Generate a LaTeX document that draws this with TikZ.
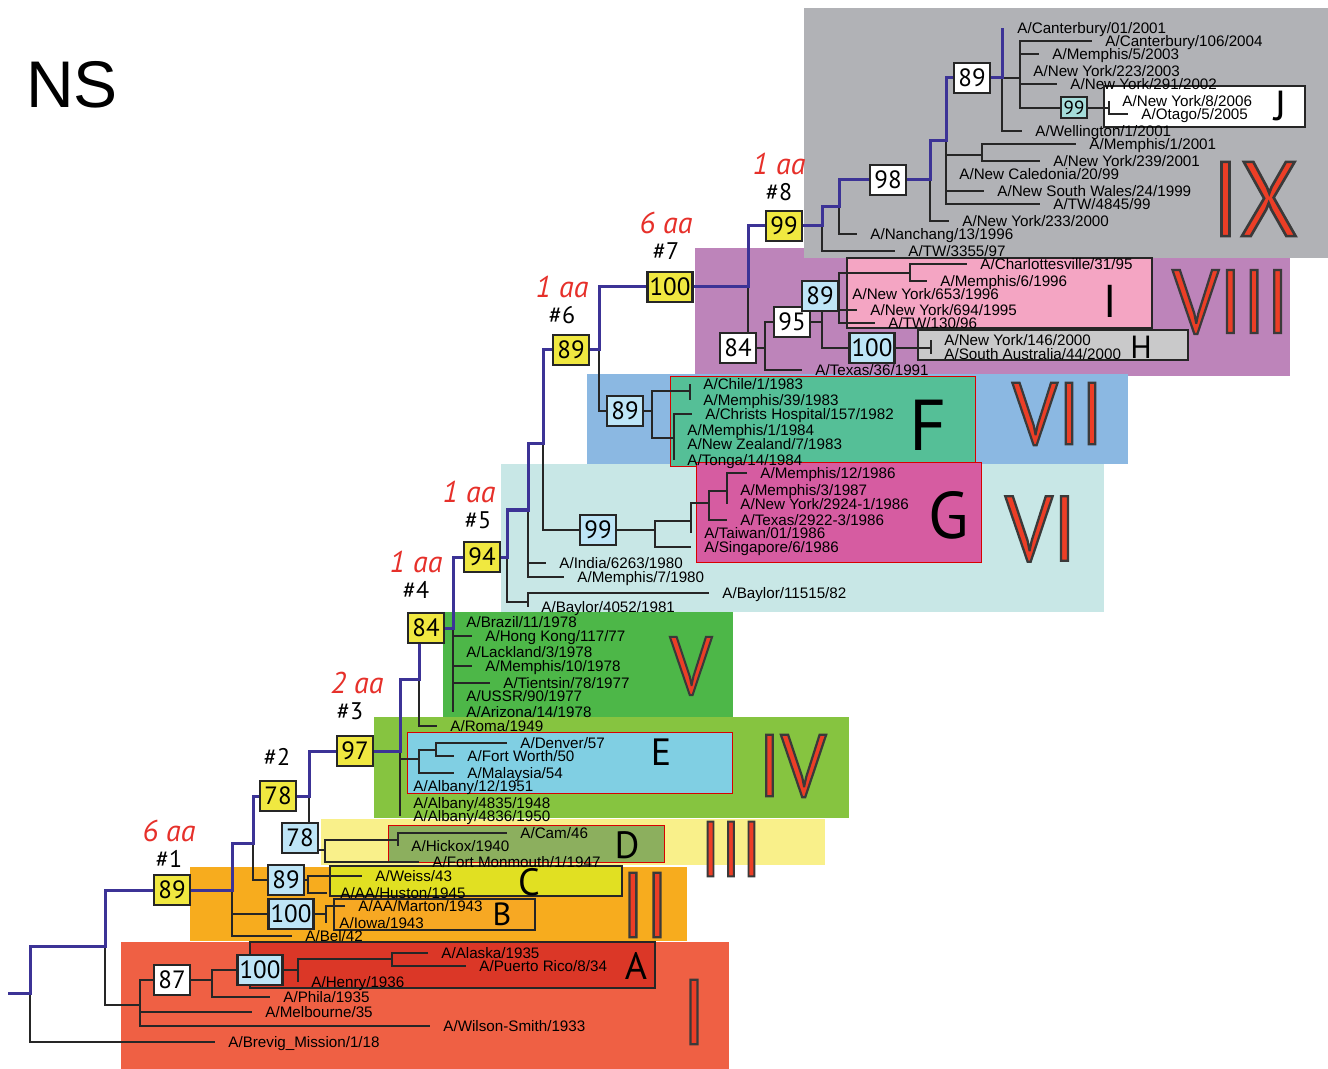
\documentclass[tikz,border=0pt]{standalone}
\usepackage{fontspec}
\setmainfont{Liberation Sans}
\newfontfamily\ptsans{PT Sans}
\newfontfamily\numfont[FakeStretch=0.9, FakeBold=2.5]{PT Sans}
\usetikzlibrary{positioning}

\definecolor{spineblue}{RGB}{60,51,150}
\definecolor{aared}{RGB}{230,48,42}
\definecolor{bsyellow}{RGB}{240,232,64}
\definecolor{bsblue}{RGB}{190,229,247}
\definecolor{bscyan}{RGB}{165,221,218}
\definecolor{bgIX}{RGB}{177,178,182}
\definecolor{bgVIII}{RGB}{189,132,186}
\definecolor{bgVII}{RGB}{139,184,226}
\definecolor{bgVI}{RGB}{200,231,230}
\definecolor{bgV}{RGB}{77,183,72}
\definecolor{bgIV}{RGB}{134,196,64}
\definecolor{bgIII}{RGB}{249,240,138}
\definecolor{bgII}{RGB}{247,172,30}
\definecolor{bgI}{RGB}{239,96,68}
\definecolor{boxI}{RGB}{244,165,195}
\definecolor{boxH}{RGB}{201,201,202}
\definecolor{boxF}{RGB}{85,191,151}
\definecolor{boxG}{RGB}{214,92,161}
\definecolor{boxE}{RGB}{128,207,227}
\definecolor{boxD}{RGB}{140,175,94}
\definecolor{boxC}{RGB}{225,224,34}
\definecolor{boxB}{RGB}{247,168,35}
\definecolor{boxA}{RGB}{219,55,39}

% red fill, dark grey stroke
\newcommand\outlined[1]{\special{pdf:bcolor [0.925 0.243 0.149] [0.227 0.227 0.227]}#1\special{pdf:ecolor}}

\begin{document}
\begin{tikzpicture}[
  x=0.5pt, y=-0.5pt,
  leaf/.style={anchor=west, inner xsep=6.5pt, inner ysep=0pt, text height=5.6pt, text depth=0.2pt, font=\fontsize{7.6}{8}\selectfont},
  twig/.style={line width=0.6pt, black!85},
  spine/.style={line width=1.5pt, spineblue},
  bs/.style={rectangle, draw=black!85, line width=1.2pt, minimum width=18pt, minimum height=15pt, inner sep=1pt, font=\ptsans\fontsize{12.5}{12.5}\selectfont},
  bsy/.style={bs, fill=bsyellow},
  bsb/.style={bs, fill=bsblue},
  bsw/.style={bs, fill=white},
  cladebox/.style={line width=1.1pt, draw=black!85},
  redbox/.style={line width=0.5pt, draw=red!85!black},
  letter/.style={inner sep=0pt, font=\ptsans\fontsize{#1}{#1}\selectfont},
  numeral/.style={inner sep=0pt, font=\numfont\fontsize{#1}{#1}\selectfont},
  change/.style={inner sep=0pt, text=aared, font=\ptsans\itshape\fontsize{15}{15}\selectfont},
  branchno/.style={inner sep=0pt, font=\ptsans\fontsize{12}{12}\selectfont}
]
\useasboundingbox (0,0) rectangle (1328,1069);

% clade backgrounds
\fill[bgVIII] (695,248) rectangle (1290,376);
\fill[bgIX] (804,8) rectangle (1328,258);
\filldraw[cladebox, fill=boxI] (847,258) rectangle (1152,328);
\filldraw[cladebox, fill=boxH] (918,330) rectangle (1188,360);
\filldraw[cladebox, fill=white] (1104,86) rectangle (1305,127);
\fill[bgVII] (587,374) rectangle (1128,464);
\fill[bgVI] (501,464) rectangle (1104,612);
\filldraw[redbox, fill=boxF] (670,377) rectangle (975,467);
\filldraw[redbox, fill=boxG] (696,463) rectangle (981,562);
\fill[bgV] (443,612) rectangle (733,718);
\fill[bgIV] (374,717) rectangle (849,818);
\filldraw[redbox, fill=boxE] (407,732) rectangle (732,793);
\fill[bgIII] (321,819) rectangle (825,865);
\filldraw[redbox, fill=boxD] (388,825) rectangle (664,862);
\fill[bgII] (190,867) rectangle (687,941);
\filldraw[cladebox, fill=boxC] (330,866) rectangle (622,896);
\filldraw[cladebox, fill=boxB] (334,899) rectangle (535,930);
\fill[bgI] (121,942) rectangle (729,1069);
\filldraw[cladebox, fill=boxA] (250,942) rectangle (655,988);

\node[font=\fontsize{33}{33}\selectfont, inner sep=0pt] (title) at (72,85) {NS};

% clade numerals and letters
\node[numeral=53] (numIX) at (1255,199) {\outlined{IX}};
\node[numeral=45] (numVIII) at (1231,302) {\outlined{VIII}};
\node[numeral=44] (numVII) at (1058,414) {\outlined{VII}};
\node[numeral=46] (numVI) at (1041,529) {\outlined{VI}};
\node[numeral=41] (numV) at (691,666) {\outlined{V}};
\node[numeral=44] (numIV) at (792,766) {\outlined{IV}};
\node[numeral=39] (numIII) at (731,849) {\outlined{III}};
\node[numeral=46] (numII) at (645,905) {\outlined{II}};
\node[numeral=46] (numI) at (694,1012) {\outlined{I}};
\node[letter=21] (labJ) at (1281,106) {J};
\node[letter=23] (labI) at (1110,301) {I};
\node[letter=16] (labH) at (1141,347) {H};
\node[letter=36] (labF) at (928,425) {F};
\node[letter=33] (labG) at (949,515) {G};
\node[letter=19] (labE) at (661,752) {E};
\node[letter=19] (labD) at (627,845) {D};
\node[letter=19] (labC) at (529,882) {C};
\node[letter=16] (labB) at (502,914) {B};
\node[letter=19] (labA) at (636,966) {A};

% bootstrap boxes
\node[bsy] (bs1) at (172,890) {89};
\node[bsy] (bs2) at (278,796) {78};
\node[bsy] (bs3) at (355,751) {97};
\node[bsy] (bs4) at (426,628) {84};
\node[bsy] (bs5) at (482,557) {94};
\node[bsy] (bs6) at (571,350) {89};
\node[bsy] (bs7) at (670,287) {100};
\node[bsy] (bs8) at (784,226) {99};
\node[bsw] (bsI) at (172,980) {87};
\node[bsb] (bsA) at (260,970) {100};
\node[bsb] (bsC) at (286,880) {89};
\node[bsb] (bsB) at (291,914) {100};
\node[bsb] (bsD) at (300,838) {78};
\node[bsb] (bsG) at (598,530) {99};
\node[bsb] (bsF) at (625,411) {89};
\node[bsw] (bsVIII) at (738,348) {84};
\node[bsw] (bsVIIIb) at (792,322) {95};
\node[bsb] (bsPink) at (820,296) {89};
\node[bsb] (bsH) at (872,348) {100};
\node[bsw] (bsIX) at (888,180) {98};
\node[bsw] (bsIXb) at (972,78) {89};
\node[bs, fill=bscyan, minimum width=13pt, minimum height=10.5pt, line width=1pt, font=\ptsans\fontsize{9.5}{9.5}\selectfont] (bsJ) at (1074,108) {99};

% branch numbers and substitutions
\node[branchno] (no1) at (169,859) {\#1};
\node[branchno] (no2) at (277,757) {\#2};
\node[branchno] (no3) at (350,711) {\#3};
\node[branchno] (no4) at (416,590) {\#4};
\node[branchno] (no5) at (478,520) {\#5};
\node[branchno] (no6) at (562,315) {\#6};
\node[branchno] (no7) at (666,251) {\#7};
\node[branchno] (no8) at (779,192) {\#8};
\node[change, above=4pt of no1] (aa1) {6 aa};
\node[change, above=4pt of no3, xshift=3.5pt] (aa3) {2 aa};
\node[change, above=4pt of no4] (aa4) {1 aa};
\node[change, above=4pt of no5, xshift=-4.5pt] (aa5) {1 aa};
\node[change, above=4pt of no6] (aa6) {1 aa};
\node[change, above=4pt of no7] (aa7) {6 aa};
\node[change, above=4pt of no8] (aa8) {1 aa};

% strains
\node[leaf] (brevig) at (215,1042) {A/Brevig\_Mission/1/18};
\node[leaf] (wilson) at (430,1026) {A/Wilson-Smith/1933};
\node[leaf] (melbourne) at (252,1012) {A/Melbourne/35};
\node[leaf] (phila) at (270,997) {A/Phila/1935};
\node[leaf] (henry) at (298,982) {A/Henry/1936};
\node[leaf] (alaska) at (428,953) {A/Alaska/1935};
\node[leaf] (puerto) at (466,966) {A/Puerto Rico/8/34};
\node[leaf] (bel) at (292,936) {A/Bel/42};
\node[leaf] (iowa) at (326,923) {A/Iowa/1943};
\node[leaf] (marton) at (345,906) {A/AA/Marton/1943};
\node[leaf] (huston) at (327,893) {A/AA/Huston/1945};
\node[leaf] (weiss) at (362,876) {A/Weiss/43};
\node[leaf] (monmouth) at (419,862) {A/Fort Monmouth/1/1947};
\node[leaf] (hickox) at (398,846) {A/Hickox/1940};
\node[leaf] (cam) at (507,833) {A/Cam/46};
\node[leaf] (albanyC) at (400,816) {A/Albany/4836/1950};
\node[leaf] (albanyB) at (400,803) {A/Albany/4835/1948};
\node[leaf] (albanyA) at (400,786) {A/Albany/12/1951};
\node[leaf] (malaysia) at (454,773) {A/Malaysia/54};
\node[leaf] (fortworth) at (454,756) {A/Fort Worth/50};
\node[leaf] (denver) at (507,743) {A/Denver/57};
\node[leaf] (roma) at (437,726) {A/Roma/1949};
\node[leaf] (arizona) at (453,712) {A/Arizona/14/1978};
\node[leaf] (ussr) at (453,696) {A/USSR/90/1977};
\node[leaf] (tientsin) at (490,683) {A/Tientsin/78/1977};
\node[leaf] (memphisX) at (472,666) {A/Memphis/10/1978};
\node[leaf] (lackland) at (453,652) {A/Lackland/3/1978};
\node[leaf] (hongkong) at (472,636) {A/Hong Kong/117/77};
\node[leaf] (brazil) at (453,622) {A/Brazil/11/1978};
\node[leaf] (baylorB) at (528,607) {A/Baylor/4052/1981};
\node[leaf] (baylorA) at (709,593) {A/Baylor/11515/82};
\node[leaf] (memphisVII) at (564,577) {A/Memphis/7/1980};
\node[leaf] (india) at (546,563) {A/India/6263/1980};
\node[leaf] (singapore) at (691,547) {A/Singapore/6/1986};
\node[leaf] (taiwan) at (691,533) {A/Taiwan/01/1986};
\node[leaf] (texasB) at (727,520) {A/Texas/2922-3/1986};
\node[leaf] (nyB) at (727,504) {A/New York/2924-1/1986};
\node[leaf] (memphisIII) at (727,490) {A/Memphis/3/1987};
\node[leaf] (memphisXII) at (747,473) {A/Memphis/12/1986};
\node[leaf] (tonga) at (674,460) {A/Tonga/14/1984};
\node[leaf] (nzealand) at (674,444) {A/New Zealand/7/1983};
\node[leaf] (memphisI) at (674,430) {A/Memphis/1/1984};
\node[leaf] (christs) at (692,414) {A/Christs Hospital/157/1982};
\node[leaf] (memphisXXXIX) at (690,400) {A/Memphis/39/1983};
\node[leaf] (chile) at (690,384) {A/Chile/1/1983};
\node[leaf] (texasC) at (802,370) {A/Texas/36/1991};
\node[leaf] (saust) at (931,354) {A/South Australia/44/2000};
\node[leaf] (nyC) at (931,340) {A/New York/146/2000};
\node[leaf] (tw130) at (875,323) {A/TW/130/96};
\node[leaf] (ny694) at (857,310) {A/New York/694/1995};
\node[leaf] (ny653) at (839,294) {A/New York/653/1996};
\node[leaf] (memphisVI) at (927,281) {A/Memphis/6/1996};
\node[leaf] (charlottes) at (967,264) {A/Charlottesville/31/95};
\node[leaf] (tw3355) at (895,251) {A/TW/3355/97};
\node[leaf] (nanchang) at (857,234) {A/Nanchang/13/1996};
\node[leaf] (ny233) at (949,221) {A/New York/233/2000};
\node[leaf] (tw4845) at (1040,204) {A/TW/4845/99};
\node[leaf] (nsw) at (984,191) {A/New South Wales/24/1999};
\node[leaf] (newcal) at (946,174) {A/New Caledonia/20/99};
\node[leaf] (ny239) at (1040,161) {A/New York/239/2001};
\node[leaf] (memphis2001) at (1076,144) {A/Memphis/1/2001};
\node[leaf] (wellington) at (1022,131) {A/Wellington/1/2001};
\node[leaf] (otago) at (1128,114) {A/Otago/5/2005};
\node[leaf] (ny8) at (1109,101) {A/New York/8/2006};
\node[leaf] (ny291) at (1057,84) {A/New York/291/2002};
\node[leaf] (ny223) at (1020,71) {A/New York/223/2003};
\node[leaf] (memphis5) at (1039,54) {A/Memphis/5/2003};
\node[leaf] (cant106) at (1092,41) {A/Canterbury/106/2004};
\node[leaf] (cant01) at (1004,28) {A/Canterbury/01/2001};

% internal nodes
\coordinate (stub) at (8,993);
\coordinate (root) at (30,993);
\coordinate (k1) at (105,946);
\coordinate (cI) at (140,1005);
\coordinate (cIa) at (212,980);
\coordinate (cIb) at (298,970);
\coordinate (cIc) at (392,959);
\coordinate (k2) at (232,890);
\coordinate (k3) at (253,843);
\coordinate (cC) at (308,880);
\coordinate (cB) at (326,914);
\coordinate (k4) at (309,796);
\coordinate (cD) at (325,850);
\coordinate (cDa) at (398,840);
\coordinate (k5) at (400,751);
\coordinate (k6) at (419,679);
\coordinate (cE) at (419,759);
\coordinate (cEa) at (436,750);
\coordinate (k7) at (453,628);
\coordinate (k8) at (507,557);
\coordinate (cBay) at (528,602);
\coordinate (k9) at (528,510);
\coordinate (k10) at (543,444);
\coordinate (cG) at (655,530);
\coordinate (cGa) at (691,521);
\coordinate (cGb) at (709,503);
\coordinate (cGc) at (727,491);
\coordinate (k11) at (599,350);
\coordinate (cF) at (652,411);
\coordinate (cFa) at (690,391);
\coordinate (cFb) at (674,438);
\coordinate (k12) at (748,287);
\coordinate (cVIII) at (765,348);
\coordinate (cVIIIa) at (822,322);
\coordinate (cPink) at (839,296);
\coordinate (cPinka) at (910,273);
\coordinate (cH) at (931,348);
\coordinate (k13) at (822,226);
\coordinate (k14) at (839,207);
\coordinate (k15) at (930,180);
\coordinate (k16) at (946,141);
\coordinate (cIXa) at (982,155);
\coordinate (k17) at (1002,78);
\coordinate (cIXb) at (1020,78);
\coordinate (cJ) at (1109,108);

% branches
\draw[twig] (root) |- (brevig.west) (k1) |- (cI);
\draw[twig] (cI) |- (bsI.west) (cI) |- (melbourne.west) (cI) |- (wilson.west);
\draw[twig] (bsI.east) -- (cIa) |- (bsA.west) (cIa) |- (phila.west);
\draw[twig] (bsA.east) -- (cIb) |- (cIc) (cIb) |- (henry.west);
\draw[twig] (cIc) |- (alaska.west) (cIc) |- (puerto.west);
\draw[twig] (k2) |- (bsB.west) (k2) |- (bel.west) (k3) |- (bsC.west);
\draw[twig] (bsC.east) -- (cC) |- (weiss.west) (cC) |- (huston.west);
\draw[twig] (bsB.east) -- (cB) |- (marton.west) (cB) |- (iowa.west);
\draw[twig] (k4) -- (k4 |- bsD.north);
\draw[twig] (bsD.east |- cD) -- (cD) |- (cDa) (cD) |- (monmouth.west);
\draw[twig] (cDa) |- (cam.west) (cDa) |- (hickox.west);
\draw[twig] (k5) |- (cE) (k5) |- (albanyA.west) (k5) |- (albanyB.west) (k5) |- (albanyC.west);
\draw[twig] (cE) |- (cEa) (cE) |- (malaysia.west);
\draw[twig] (cEa) |- (denver.west) (cEa) |- (fortworth.west);
\draw[twig] (k6) |- (roma.west);
\draw[twig] (k7) |- (brazil.west) (k7) |- (hongkong.west) (k7) |- (lackland.west) (k7) |- (memphisX.west)
  (k7) |- (tientsin.west) (k7) |- (ussr.west) (k7) |- (arizona.west);
\draw[twig] (k8) |- (cBay) (cBay) |- (baylorA.west) (cBay) |- (baylorB.west);
\draw[twig] (k9) |- (india.west) (k9) |- (memphisVII.west);
\draw[twig] (k10) |- (bsG.west);
\draw[twig] (bsG.east) -- (cG) |- (cGa) (cG) |- (singapore.west);
\draw[twig] (cGa) |- (cGb) (cGa) |- (taiwan.west);
\draw[twig] (cGb) |- (cGc) (cGb) |- (texasB.west);
\draw[twig] (cGc) |- (memphisXII.west) (cGc) |- (memphisIII.west) (cGc) |- (nyB.west);
\draw[twig] (k11) |- (bsF.west);
\draw[twig] (bsF.east) -- (cF) |- (cFa) (cF) |- (cFb);
\draw[twig] (cFa) |- (chile.west) (cFa) |- (memphisXXXIX.west);
\draw[twig] (cFb) |- (christs.west) (cFb) |- (memphisI.west) (cFb) |- (nzealand.west) (cFb) |- (tonga.west);
\draw[twig] (k12) -- (k12 |- bsVIII.north);
\draw[twig] (bsVIII.east) -- (cVIII) |- (bsVIIIb.west) (cVIII) |- (texasC.west);
\draw[twig] (bsVIIIb.east) -- (cVIIIa) -- (cVIIIa |- bsPink.south) (cVIIIa) |- (bsH.west);
\draw[twig] (bsPink.east) -- (cPink) |- (cPinka) (cPink) |- (ny653.west) (cPink) |- (ny694.west) (cPink) |- (tw130.west);
\draw[twig] (cPinka) |- (charlottes.west) (cPinka) |- (memphisVI.west);
\draw[twig] (bsH.east) -- (cH) |- (nyC.west) (cH) |- (saust.west);
\draw[twig] (k13) |- (tw3355.west) (k14) |- (nanchang.west) (k15) |- (ny233.west);
\draw[twig] (k16) |- (cIXa) (k16) |- (newcal.west) (k16) |- (nsw.west) (k16) |- (tw4845.west);
\draw[twig] (cIXa) |- (memphis2001.west) (cIXa) |- (ny239.west);
\draw[twig] (k17) |- (cIXb) (k17) |- (wellington.west);
\draw[twig] (cIXb) |- (cant106.west) (cIXb) |- (memphis5.west) (cIXb) |- (ny223.west) (cIXb) |- (ny291.west) (cIXb) |- (bsJ.west);
\draw[twig] (bsJ.east) -- (cJ) |- (ny8.west) (cJ) |- (otago.west);

% backbone
\draw[spine] (stub) -- (root) |- (k1) |- (bs1.west);
\draw[spine] (bs1.east) -- (k2) |- (k3) |- (bs2.west);
\draw[spine] (bs2.east) -- (k4) |- (bs3.west);
\draw[spine] (bs3.east) -- (k5) |- (k6) -- (k6 |- bs4.south);
\draw[spine] (bs4.east) -- (k7) |- (bs5.west);
\draw[spine] (bs5.east) -- (k8) |- (k9) |- (k10) |- (bs6.west);
\draw[spine] (bs6.east) -- (k11) |- (bs7.west);
\draw[spine] (bs7.east) -- (k12) |- (bs8.west);
\draw[spine] (bs8.east) -- (k13) |- (k14) |- (bsIX.west);
\draw[spine] (bsIX.east) -- (k15) |- (k16) |- (bsIXb.west);
\draw[spine] (bsIXb.east) -- (k17) -- (k17 |- cant01.west);
\end{tikzpicture}
\end{document}
